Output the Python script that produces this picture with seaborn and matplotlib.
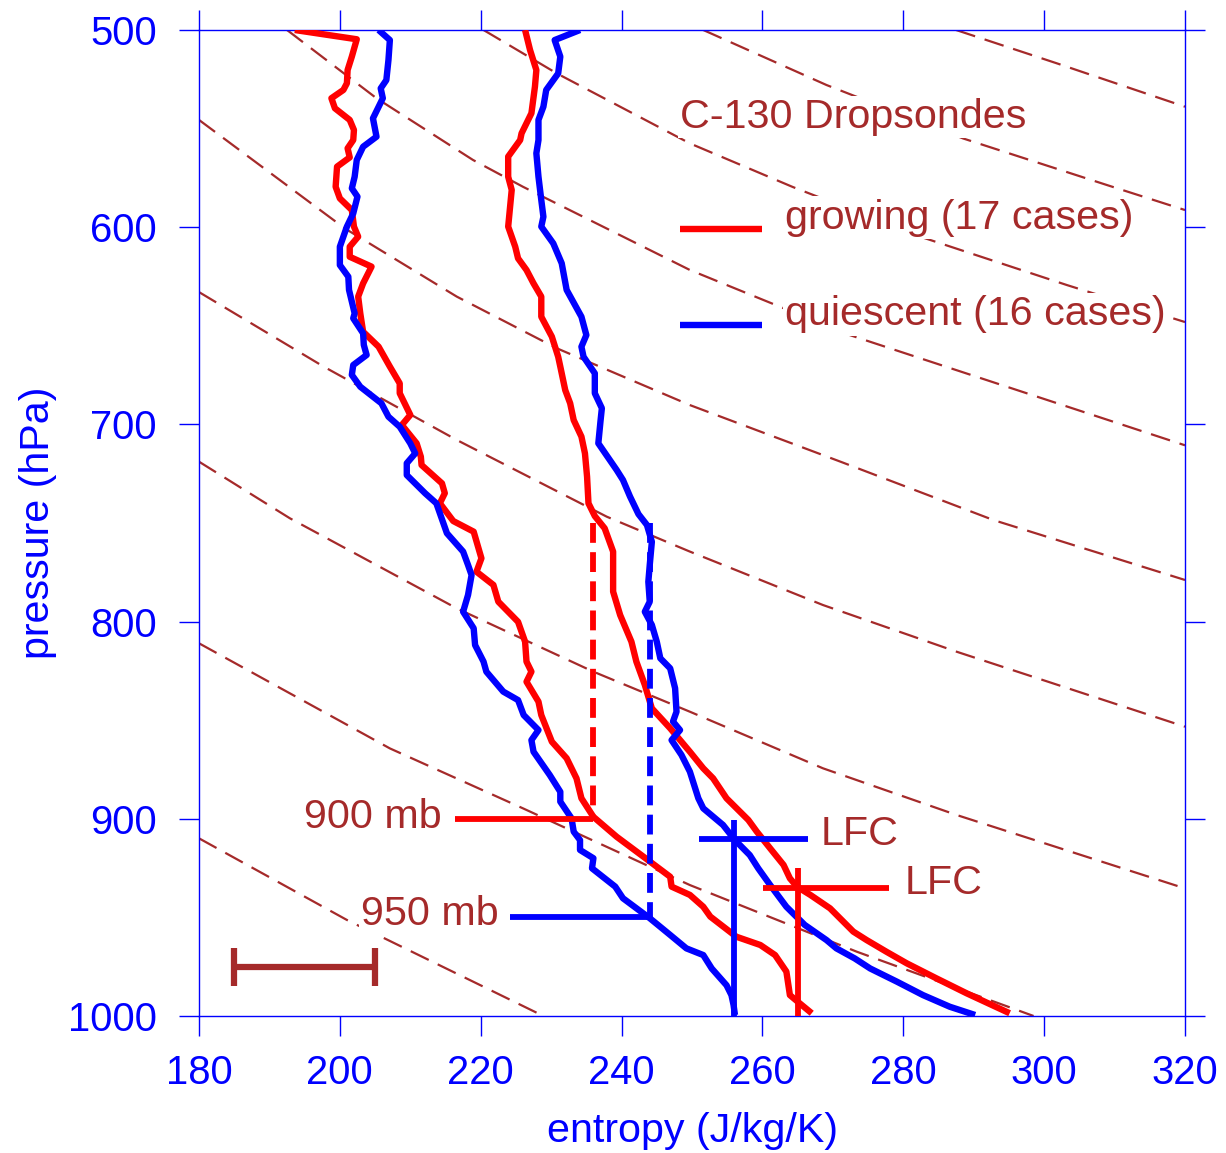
import numpy as np
import pandas as pd
import matplotlib
matplotlib.use("Agg")
import matplotlib.pyplot as plt
import seaborn as sns

# ---------------- data (entropy J/kg/K, pressure hPa) ----------------
# growing (red), moist entropy profile
grow_s_s = [193.6, 202.4, 201.7, 201.1, 201.0, 200.5, 198.8, 199.3, 201.4, 202.0, 201.9, 201.1, 201.4,
            199.6, 199.4, 200.0, 201.7, 202.0, 202.6, 201.4, 201.4, 204.5, 203.3, 202.6, 202.9, 203.3,
            205.5, 207.1, 208.5, 208.5, 210.0, 208.8, 210.9, 211.5, 211.6, 214.5, 214.9, 214.2, 216.1,
            219.0, 220.1, 219.4, 221.8, 222.5, 225.3, 226.3, 226.5, 227.2, 226.5, 228.2, 228.6, 230.1,
            232.2, 233.6, 234.3, 236.0, 239.3, 243.1, 246.9, 247.1, 249.7, 251.6, 252.6, 256.3, 259.7,
            261.8, 263.4, 263.9, 265.3, 267.0]
grow_s_p = [500, 504.7, 513.5, 520.3, 527, 530.4, 534.6, 539.7, 545.6, 550.7, 555.8, 560, 564.6,
            569.3, 579.5, 585.4, 591.3, 599.7, 604.8, 609.9, 615, 620, 628.5, 635.2, 643.7, 653,
            660.6, 670.7, 679.2, 684.2, 695.2, 700.3, 709.6, 716.4, 720.6, 729.9, 734.9, 740, 749,
            754.4, 767.9, 774.7, 781.4, 789.9, 800.1, 810.2, 820.3, 825.4, 830.5, 840.6, 847.4, 860.9,
            869.3, 879.5, 889.6, 899, 909.1, 919.2, 929.4, 934.4, 938.6, 944.6, 949.6, 959.8, 964,
            969.1, 977.5, 989.4, 993.6, 998.6]

# quiescent (blue), moist entropy profile
quie_s_s = [205.5, 207.1, 206.9, 206.6, 205.8, 206.1, 204.7, 205.2, 203.3, 202.4, 202.1, 201.7, 202.5,
            201.9, 201.0, 200.0, 200.0, 201.2, 201.3, 202.1, 201.9, 203.3, 203.4, 203.8, 201.9, 201.7,
            202.9, 205.9, 206.9, 208.5, 210.0, 210.7, 209.5, 209.5, 212.1, 213.7, 215.2, 217.5, 218.2,
            218.7, 218.2, 217.5, 219.0, 219.2, 220.4, 220.8, 223.2, 225.3, 226.1, 228.2, 227.2, 227.5,
            229.8, 231.3, 231.3, 232.9, 233.2, 234.1, 234.1, 236.0, 235.8, 239.1, 240.2, 244.0, 246.9,
            249.2, 251.6, 252.8, 254.9, 255.6, 255.9, 256.1]
quie_s_p = [500, 505.1, 515.2, 525.4, 529.6, 534.6, 544.8, 554.1, 559.2, 565.9, 574.4, 580.3, 584.5,
            593, 599.7, 609.9, 619.2, 625.1, 631.8, 643.7, 646.2, 653.8, 659.7, 664.8, 669.9, 674.9,
            680.9, 689.3, 696.1, 701.2, 709.6, 714.7, 719.7, 725.7, 734.9, 740, 755.2, 764.5, 771.3,
            776.4, 786.5, 795, 803.4, 811.9, 820.3, 825.4, 835.5, 839.8, 847.4, 855, 860.1, 866,
            877.8, 886.3, 891.3, 899.8, 906.5, 910.8, 915.8, 920, 925.1, 934.4, 940.3, 950.4, 958.9,
            965.7, 969.1, 975.9, 984.4, 989.4, 994.4, 999.5]

# growing (red), saturated entropy profile
grow_sat_s = [226.3, 227.0, 227.9, 227.7, 227.2, 225.8, 225.6, 223.9, 223.9, 224.4, 223.9, 224.9, 225.3,
              226.5, 227.5, 228.6, 228.6, 230.1, 231.0, 231.3, 232.0, 232.7, 233.2, 234.3, 234.8, 235.1,
              235.3, 236.2, 237.6, 238.8, 238.8, 239.8, 241.4, 242.1, 243.3, 244.3, 246.9, 249.7, 251.6,
              253.0, 254.9, 258.0, 259.2, 261.1, 263.0, 263.9, 264.9, 266.8, 269.6, 272.9, 274.8, 277.6,
              280.5, 284.7, 289.0, 295.1]
grow_sat_p = [500, 510.1, 520.3, 528.7, 542.2, 552.4, 555.8, 564.2, 574.4, 581.1, 599.7, 609.9, 615.8,
              621.7, 628.5, 635.2, 645.4, 655.5, 665.7, 670.7, 682.6, 689.3, 697.8, 706.2, 714.7, 726.5,
              740, 746.5, 752.7, 764.5, 784.8, 796.7, 810.2, 820.3, 832.1, 844, 854.1, 866, 874.4,
              879.5, 889.6, 900.6, 906.5, 915, 923.4, 930.2, 934.4, 938.6, 945.4, 957.2, 961.5, 967.4,
              973.3, 980.9, 988.5, 998.6]

# quiescent (blue), saturated entropy profile
quie_sat_s = [234.1, 230.5, 231.3, 231.0, 229.3, 228.9, 228.2, 228.2, 227.9, 228.2, 228.6, 228.9, 228.6,
              230.3, 231.5, 232.2, 234.3, 235.0, 234.3, 234.6, 236.2, 236.2, 237.2, 237.0, 236.7, 239.3,
              240.2, 241.2, 242.4, 243.6, 244.3, 244.0, 243.8, 244.0, 243.3, 244.3, 245.0, 245.5, 246.9,
              247.6, 247.8, 247.3, 248.3, 247.1, 248.5, 249.7, 250.9, 251.6, 254.4, 256.1, 258.2, 259.4,
              261.1, 263.4, 266.0, 269.1, 270.5, 273.1, 275.3, 279.1, 282.8, 286.6, 290.2]
quie_sat_p = [500, 505.1, 513.5, 522, 530.4, 538.9, 545.6, 555.8, 562.5, 574.4, 586.2, 594.7, 599.7,
              608.2, 618.3, 631.8, 645.4, 654.7, 660.6, 665.7, 674.1, 684.2, 691.8, 698.6, 709.6, 723.1,
              728.2, 736.6, 745.5, 751, 759.5, 771.3, 779.8, 789.9, 795, 801.7, 810.2, 818.6, 823.7,
              833.8, 845.7, 850.7, 855, 860.1, 867.6, 876.1, 889.6, 894.7, 903.1, 910.8, 918.4, 925.1,
              933.6, 944.6, 953.8, 961.5, 965.7, 970.8, 975.9, 982.6, 989.4, 995.3, 999.5]

# background dashed reference curves (entropy, pressure)
ref1_s = [287.5, 301.8, 320.0];                                   ref1_p = [500, 516.9, 538.9]
ref2_s = [251.6, 269.1, 288.5, 308.9, 320.0];                     ref2_p = [500, 527.9, 555.0, 578.6, 591.3]
ref3_s = [220.4, 230.8, 249.7, 264.3, 282.4, 303.2, 320.0];       ref3_p = [500, 522.0, 557.5, 579.6, 604.8, 629.3, 648.1]
ref4_s = [192.5, 205.2, 218.9, 226.0, 249.7, 261.3, 272.4, 320.0]; ref4_p = [500, 534.6, 565.9, 579.5, 621.7, 638.6, 654.7, 710.6]
ref5_s = [180.0, 200.7, 216.6, 230.8, 249.7, 271.3, 292.8, 320.0]; ref5_p = [545.6, 600.6, 635.2, 661.4, 690.2, 719.2, 748.5, 778.9]
ref6_s = [180.0, 197.7, 216.6, 237.9, 249.7, 268.6, 287.6, 320.0]; ref6_p = [632.9, 670.7, 707.9, 746.8, 764.5, 791.6, 815.3, 853.3]
ref7_s = [180.0, 192.9, 216.6, 236.0, 249.7, 268.6, 287.6, 320.0]; ref7_p = [718.9, 747.6, 793.3, 825.4, 845.7, 874.4, 898.1, 935.3]
ref8_s = [180.0, 207.1, 226.0, 249.7, 273.4, 298.5];              ref8_p = [811.0, 864.3, 894.7, 933.6, 967.4, 1000]
ref9_s = [180.0, 201.0, 228.9];                                   ref9_p = [909.9, 951.3, 1000]

# level markers
mk900_s = [216.3, 236.0];  mk900_p = [900, 900]
vd_red_s = [236.0, 236.0]; vd_red_p = [750, 900]
mk950_s = [224.2, 244.0];  mk950_p = [950, 950]
vd_blue_s = [244.0, 244.0]; vd_blue_p = [750, 950]
lfc_b_h_s = [251.0, 266.5]; lfc_b_h_p = [910, 910]
lfc_b_v_s = [256.0, 256.0]; lfc_b_v_p = [900.6, 1000]
lfc_r_h_s = [260.1, 278.0]; lfc_r_h_p = [935, 935]
lfc_r_v_s = [265.0, 265.0]; lfc_r_v_p = [925, 1000]
scale_s = [195.0]; scale_p = [975.0]; scale_err = [10.0]

x_ticks = [180, 200, 220, 240, 260, 280, 300, 320]
y_ticks = [500, 600, 700, 800, 900, 1000]

# ---------------- style ----------------
sns.set_theme(style="white")
plt.rcParams["font.family"] = ["Liberation Sans", "DejaVu Sans"]

BROWN = "#A52A2A"
FS = 28.8      # tick labels
FT = 29.7      # annotation / legend / axis titles
LW = 4.6

fig = plt.figure(figsize=(12.26, 11.53), dpi=100)
ax = fig.add_axes([0.16232, 0.11882, 0.80424, 0.85516])

refs = [(ref1_s, ref1_p), (ref2_s, ref2_p), (ref3_s, ref3_p), (ref4_s, ref4_p), (ref5_s, ref5_p),
        (ref6_s, ref6_p), (ref7_s, ref7_p), (ref8_s, ref8_p), (ref9_s, ref9_p)]
for rs, rp in refs:
    sns.lineplot(x=rs, y=rp, sort=False, estimator=None, color=BROWN, lw=1.6,
                 linestyle=(0, (9, 4.5)), ax=ax, zorder=1, legend=False)

def line(xs, ys, color, lw=LW, ls="-", z=3):
    sns.lineplot(x=xs, y=ys, sort=False, estimator=None, color=color, lw=lw,
                 linestyle=ls, ax=ax, zorder=z, legend=False, solid_capstyle="butt")
    return ax.lines[-1]

red_line = line(grow_s_s, grow_s_p, "red")
blue_line = line(quie_s_s, quie_s_p, "blue")
line(grow_sat_s, grow_sat_p, "red")
line(quie_sat_s, quie_sat_p, "blue")

line(mk900_s, mk900_p, "red", lw=4.2)
line(vd_red_s, vd_red_p, "red", lw=4.2, ls=(0, (3.4, 1.6)))
line(mk950_s, mk950_p, "blue", lw=4.2)
line(vd_blue_s, vd_blue_p, "blue", lw=4.2, ls=(0, (3.4, 1.6)))
line(lfc_b_h_s, lfc_b_h_p, "blue", lw=4.2)
line(lfc_b_v_s, lfc_b_v_p, "blue", lw=4.2)
line(lfc_r_h_s, lfc_r_h_p, "red", lw=4.2)
line(lfc_r_v_s, lfc_r_v_p, "red", lw=4.2)

ax.errorbar(scale_s, scale_p, xerr=scale_err, fmt="none", ecolor=BROWN, elinewidth=4.5,
            capsize=13.7, capthick=4.5, zorder=3)

tb = dict(boxstyle="square,pad=0.05", fc="white", ec="none")
ax.text(214.5, 899, "900 mb", ha="right", va="center", fontsize=FT, color=BROWN, bbox=tb, zorder=4)
ax.text(222.5, 948.5, "950 mb", ha="right", va="center", fontsize=FT, color=BROWN, bbox=tb, zorder=4)
ax.text(268.2, 907.5, "LFC", ha="left", va="center", fontsize=FT, color=BROWN, bbox=tb, zorder=4)
ax.text(280.2, 932.5, "LFC", ha="left", va="center", fontsize=FT, color=BROWN, bbox=tb, zorder=4)

ax.text(0.4878, 0.9006, "C-130 Dropsondes", transform=ax.transAxes, ha="left", va="baseline",
        fontsize=FT, color=BROWN, bbox=tb, zorder=6)

leg = ax.legend(handles=[red_line, blue_line], labels=["growing (17 cases)", "quiescent (16 cases)"],
                loc="lower left", bbox_to_anchor=(0.4878, 0.6922), bbox_transform=ax.transAxes,
                frameon=False, borderpad=0, borderaxespad=0, handlelength=1.99, handletextpad=0.56,
                labelspacing=1.43, fontsize=FT, labelcolor=BROWN)
for t in leg.get_texts():
    t.set_bbox(tb)
for h in leg.legend_handles:
    h.set_ydata(np.zeros_like(np.asarray(h.get_xdata(), dtype=float)))

ax.set_xlim(180, 320)
ax.set_ylim(1000, 500)
ax.set_xticks(x_ticks)
ax.set_yticks(y_ticks)
ax.set_xticklabels([str(v) for v in x_ticks])
ax.set_yticklabels([str(v) for v in y_ticks])

for sp in ax.spines.values():
    sp.set_visible(True)
    sp.set_color("blue")
    sp.set_linewidth(1.0)

ax.tick_params(which="both", direction="out", length=14.4, width=1.0, color="blue",
               labelcolor="blue", labelsize=FS, top=True, right=True, bottom=True, left=True,
               labeltop=False, labelright=False)
ax.tick_params(axis="x", pad=13)
ax.tick_params(axis="y", pad=15.8)

ax.set_xlabel("entropy (J/kg/K)", fontsize=FT, color="blue", labelpad=14)
ax.set_ylabel("pressure (hPa)", fontsize=FT, color="blue", labelpad=8)
ax.grid(False)

fig.savefig("out.png", dpi=100, facecolor="white")
